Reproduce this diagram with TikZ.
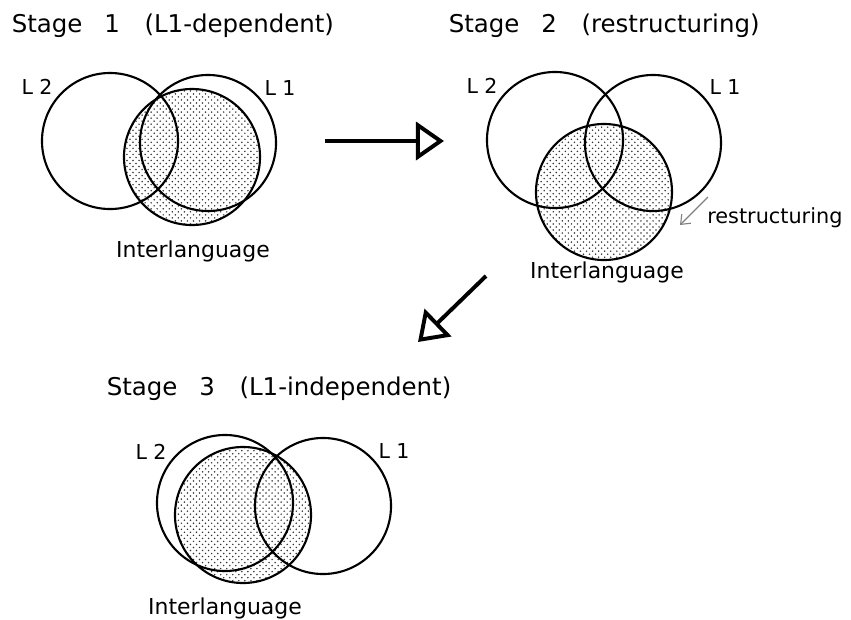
\documentclass[tikz,border=0pt]{standalone}
\usepackage{fontspec}
\setmainfont{DejaVu Sans}
\usetikzlibrary{arrows.meta,patterns.meta}

\tikzdeclarepattern{
  name=stipple,
  type=uncolored,
  bottom left={(-1pt,-1pt)},
  top right={(3.3pt,3.3pt)},
  tile size={(4.3pt,4.3pt)},
  code={
    \fill (0pt,0pt) circle (0.6pt);
    \fill (2.15pt,2.15pt) circle (0.6pt);
  }
}

\tikzset{
  set/.style={circle, draw, line width=1.5pt, minimum size=3.4cm, inner sep=0pt},
  inter/.style={set, pattern=stipple, pattern color=black!80},
  title/.style={anchor=base west, inner sep=0pt, font=\fontsize{17.4}{20}\selectfont},
  lang/.style={anchor=base, inner sep=0pt, font=\fontsize{14.6}{17}\selectfont},
  ilname/.style={anchor=base, inner sep=0pt, font=\fontsize{15.6}{18}\selectfont},
  note/.style={anchor=base west, inner sep=0pt, font=\fontsize{14.8}{17}\selectfont},
  stagearrow/.style={line width=2.8pt, -{Triangle[open, length=7mm, width=9.5mm]}},
  notearrow/.style={gray, line width=0.8pt, -{Straight Barb[length=2mm, width=3.2mm]}}
}

\begin{document}
\begin{tikzpicture}[x=0.025cm, y=-0.025cm]
  \useasboundingbox (0,0) rectangle (851,620);

  \node[title] (t1) at (11.5,32) {Stage\hspace{0.9em}1\hspace{1em}(L1-dependent)};
  \node[inter] (il1) at (192,157) {};
  \node[set] (s1l2) at (110,141) {};
  \node[set] (s1l1) at (208,143) {};
  \node[lang] (n1l2) at (37,94) {L\hspace{0.3em}2};
  \node[lang] (n1l1) at (280,95) {L\hspace{0.3em}1};
  \node[ilname] (n1il) at (193,257) {Interlanguage};

  \node[title] (t2) at (448.5,32) {Stage\hspace{0.9em}2\hspace{1em}(restructuring)};
  \node[inter] (il2) at (604,192) {};
  \node[set] (s2l2) at (555,140) {};
  \node[set] (s2l1) at (653,143) {};
  \node[lang] (n2l2) at (482,93) {L\hspace{0.3em}2};
  \node[lang] (n2l1) at (725,94) {L\hspace{0.3em}1};
  \node[ilname] (n2il) at (607,278) {Interlanguage};
  \node[note] (rs) at (707,223) {restructuring};

  \node[title] (t3) at (106.5,395) {Stage\hspace{0.9em}3\hspace{1em}(L1-independent)};
  \node[inter] (il3) at (243,515) {};
  \node[set] (s3l2) at (225,503) {};
  \node[set] (s3l1) at (323,506) {};
  \node[lang] (n3l2) at (151,459) {L\hspace{0.3em}2};
  \node[lang] (n3l1) at (394,458) {L\hspace{0.3em}1};
  \node[ilname] (n3il) at (225,614) {Interlanguage};

  \coordinate (a1) at (325,141);
  \coordinate (b1) at (444,141);
  \coordinate (a2) at (486,276);
  \coordinate (b2) at (418,342);
  \coordinate (r1) at (708,197);
  \coordinate (r2) at (680,225);
  \draw[stagearrow] (a1) -- (b1);
  \draw[stagearrow] (a2) -- (b2);
  \draw[notearrow] (r1) -- (r2);
\end{tikzpicture}
\end{document}
